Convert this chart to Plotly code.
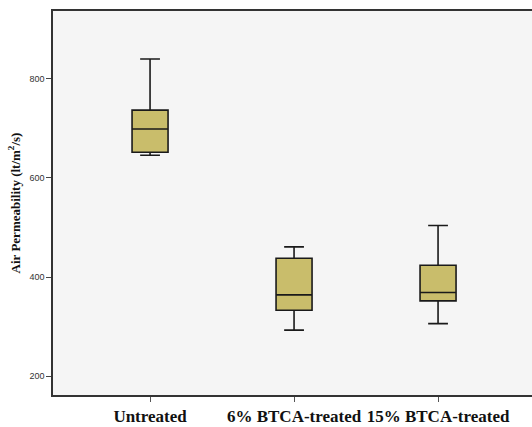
import plotly.graph_objects as go

categories = ["Untreated", "6% BTCA-treated", "15% BTCA-treated"]
lower_whisker = [646, 293, 306]
q1 = [652, 333, 352]
median = [699, 364, 369]
q3 = [737, 438, 424]
upper_whisker = [840, 461, 504]
y_ticks = [200, 400, 600, 800]

x_pos = list(range(len(categories)))

fig = go.Figure()
fig.add_trace(go.Box(
    x=x_pos,
    q1=q1, median=median, q3=q3,
    lowerfence=lower_whisker, upperfence=upper_whisker,
    fillcolor="#c9bd6b",
    line=dict(color="#1a1a1a", width=1.6),
    width=0.25,
    whiskerwidth=0.55,
    boxpoints=False,
    hoverinfo="skip",
    showlegend=False,
))

fig.update_layout(
    width=540, height=427,
    margin=dict(l=53, r=0, t=11, b=32),
    paper_bgcolor="white",
    plot_bgcolor="#f5f5f5",
    xaxis=dict(
        range=[-0.674, 2.708],
        tickvals=x_pos, ticktext=["<b>" + c + "</b>" for c in categories],
        tickfont=dict(family="Liberation Serif", size=17, color="#111"),
        tickangle=0,
        ticks="outside", ticklen=5, tickcolor="#555", tickwidth=1,
        showline=True, linecolor="#333", linewidth=2, mirror=True,
        showgrid=False, zeroline=False, automargin=False,
    ),
    yaxis=dict(
        range=[162, 937],
        tickvals=y_ticks,
        tickfont=dict(family="Liberation Sans", size=9, color="#333"),
        ticks="outside", ticklen=5, tickcolor="#444", tickwidth=1,
        showline=True, linecolor="#333", linewidth=1.5,
        showgrid=False, zeroline=False, automargin=False,
        title=dict(text="<b>Air Permeability (lt/m<sup>2</sup>/s)</b>",
                   font=dict(family="Liberation Serif", size=13, color="#111"),
                   standoff=6),
    ),
)

fig.write_html(
    "out.html",
    config={"displayModeBar": False},
    post_script="document.body.style.margin='0';document.body.style.overflow='hidden';",
)
